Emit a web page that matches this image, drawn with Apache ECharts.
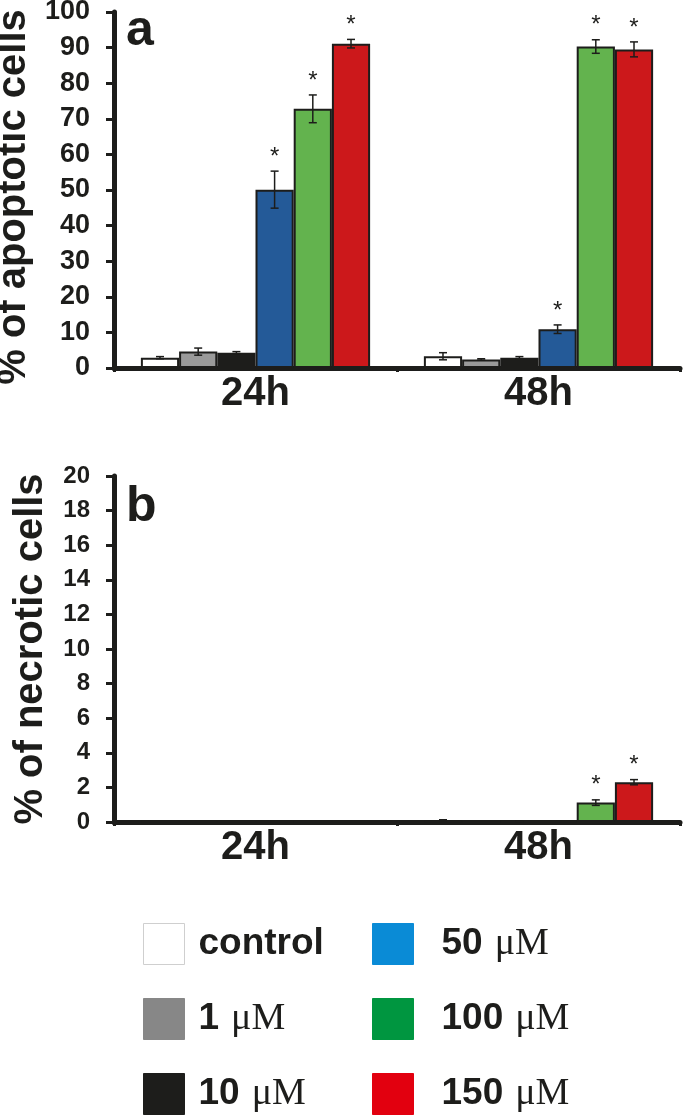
<!DOCTYPE html>
<html>
<head>
<meta charset="utf-8">
<style>
html,body{margin:0;padding:0;background:#fff;}
#chart{width:685px;height:1116px;}
</style>
<script src="https://cdn.jsdelivr.net/npm/echarts@6/dist/echarts.min.js"></script>
</head>
<body>
<div id="chart"></div>
<script>
// ---- data ----
var categories = ['24h', '48h'];
var seriesNames = ['control', '1 μM', '10 μM', '50 μM', '100 μM', '150 μM'];
// apoptotic (%) per series: [24h, 48h]
var apoptoticValues = [
  [2.9, 3.3],
  [4.6, 2.4],
  [4.3, 2.9],
  [50.1, 10.9],
  [72.8, 90.3],
  [91.1, 89.5]
];
var apoptoticErrors = [
  [0.3, 1.0],
  [1.0, 0.2],
  [0.3, 0.3],
  [5.2, 1.2],
  [3.9, 1.9],
  [1.2, 2.1]
];
var apoptoticStars = [
  [0, 0], [0, 0], [0, 0], [1, 1], [1, 1], [1, 1]
];
// necrotic (%) per series: [24h, 48h]
var necroticValues = [
  [0.02, 0.1],
  [0.06, 0.0],
  [0.04, 0.04],
  [0.06, 0.05],
  [0.02, 1.12],
  [0.05, 2.3]
];
var necroticErrors = [
  [0.0, 0.03],
  [0.0, 0.0],
  [0.0, 0.02],
  [0.0, 0.0],
  [0.0, 0.16],
  [0.0, 0.15]
];
var necroticStars = [
  [0, 0], [0, 0], [0, 0], [0, 0], [0, 1], [0, 1]
];
var apoptoticTicks = { min: 0, max: 100, interval: 10 };
var necroticTicks = { min: 0, max: 20, interval: 2 };

// ---- styles ----
var barColors = ['#ffffff', '#9a9a9a', '#1d1d1b', '#245a98', '#63b34e', '#cc181b'];
var legendColors = ['#ffffff', '#878787', '#1d1d1b', '#0a8bd6', '#009640', '#e2000f'];
var ink = '#1d1d1b';
var SANS = 'Liberation Sans, Arial, sans-serif';
var SERIF = 'Liberation Serif, Times New Roman, serif';
var CAT_GAP = 0.19;

var chart = echarts.init(document.getElementById('chart'), null, { renderer: 'canvas' });

function makeErrorRender(nSeries) {
  return function (params, api) {
    var cat = api.value(0);
    var s = api.value(1);
    var v = api.value(2);
    var e = api.value(3);
    var star = api.value(4);
    var center = api.coord([cat, 0]);
    var band = api.size([1, 0])[0];
    var bw = band * (1 - CAT_GAP) / nSeries;
    var xc = center[0] + (s - (nSeries - 1) / 2) * bw;
    var yTop = api.coord([cat, v + e])[1];
    var yBot = api.coord([cat, v - e])[1];
    var children = [];
    if (e > 0) {
      var st = { stroke: ink, lineWidth: 1.5 };
      children.push({ type: 'line', shape: { x1: xc, y1: yTop, x2: xc, y2: yBot }, style: st });
      children.push({ type: 'line', shape: { x1: xc - 4, y1: yTop, x2: xc + 4, y2: yTop }, style: st });
      children.push({ type: 'line', shape: { x1: xc - 4, y1: yBot, x2: xc + 4, y2: yBot }, style: st });
    }
    if (star) {
      children.push({
        type: 'text',
        style: {
          text: '*', x: xc, y: yTop - 14,
          align: 'center', verticalAlign: 'middle',
          font: '24px ' + SANS, fill: ink
        }
      });
    }
    return { type: 'group', children: children };
  };
}

function errorData(values, errors, stars) {
  var out = [];
  for (var s = 0; s < values.length; s++) {
    for (var c = 0; c < values[s].length; c++) {
      out.push([c, s, values[s][c], errors[s][c], stars[s][c]]);
    }
  }
  return out;
}

var series = [];
[0, 1].forEach(function (g) {
  var vals = g === 0 ? apoptoticValues : necroticValues;
  seriesNames.forEach(function (name, i) {
    series.push({
      name: name,
      type: 'bar',
      xAxisIndex: g,
      yAxisIndex: g,
      data: vals[i],
      barGap: '0%',
      barCategoryGap: (CAT_GAP * 100) + '%',
      itemStyle: { color: barColors[i], borderColor: ink, borderWidth: 2 },
      emphasis: { disabled: true },
      animation: false
    });
  });
  series.push({
    type: 'custom',
    xAxisIndex: g,
    yAxisIndex: g,
    renderItem: makeErrorRender(seriesNames.length),
    data: g === 0 ? errorData(apoptoticValues, apoptoticErrors, apoptoticStars)
                  : errorData(necroticValues, necroticErrors, necroticStars),
    z: 5,
    silent: true,
    animation: false
  });
});

function xAxisCfg(g) {
  return {
    type: 'category',
    gridIndex: g,
    data: categories,
    axisLine: { show: true, lineStyle: { color: ink, width: 5 } },
    axisTick: { show: true, length: 4, lineStyle: { color: ink, width: 3 } },
    axisLabel: { color: ink, fontFamily: SANS, fontWeight: 'bold', fontSize: 40, margin: 6 },
    splitLine: { show: false }
  };
}
function yAxisCfg(g, ticks, name, fs, gap, namePad) {
  return {
    type: 'value',
    gridIndex: g,
    min: ticks.min, max: ticks.max, interval: ticks.interval,
    name: name,
    nameLocation: 'middle',
    nameGap: gap,
    nameTextStyle: { color: ink, fontFamily: SANS, fontWeight: 'bold', fontSize: 40, padding: namePad },
    axisLine: { show: true, lineStyle: { color: ink, width: 5 } },
    axisTick: { show: true, length: 8, lineStyle: { color: ink, width: 3 } },
    axisLabel: { color: ink, fontFamily: SANS, fontWeight: 'bold', fontSize: fs, margin: 24 },
    splitLine: { show: false }
  };
}

// one legend component per entry, placed in a 2 x 3 block
var legendLayout = [
  { left: 143, top: 923, pad: 9 },
  { left: 143, top: 998, pad: 9 },
  { left: 143, top: 1073, pad: 9 },
  { left: 372, top: 923, pad: 23 },
  { left: 372, top: 998, pad: 23 },
  { left: 372, top: 1073, pad: 23 }
];
function legendCfg(i) {
  var L = legendLayout[i];
  return {
    orient: 'horizontal',
    left: L.left,
    top: L.top,
    padding: 0,
    itemWidth: 41,
    itemHeight: 41,
    icon: 'rect',
    selectedMode: false,
    data: [{
      name: seriesNames[i],
      itemStyle: {
        color: legendColors[i],
        borderColor: i === 0 ? '#cfcfcf' : legendColors[i],
        borderWidth: 1
      }
    }],
    formatter: function (n) {
      var parts = n.split(' ');
      if (parts.length === 1) return '{b|' + n + '}';
      return '{b|' + parts[0] + '}{m|' + parts[1] + '}';
    },
    textStyle: {
      rich: {
        b: { fontFamily: SANS, fontWeight: 'bold', fontSize: 37, color: ink, lineHeight: 41, padding: [0, 0, 0, L.pad] },
        m: { fontFamily: SERIF, fontWeight: 'normal', fontSize: 38, color: ink, lineHeight: 41, padding: [0, 0, 0, 12] }
      }
    }
  };
}

var option = {
  backgroundColor: '#ffffff',
  animation: false,
  title: [
    { text: 'a', left: 126, top: 6, padding: 0, textStyle: { fontFamily: SANS, fontWeight: 'bold', fontSize: 50, color: ink } },
    { text: 'b', left: 126, top: 482, padding: 0, textStyle: { fontFamily: SANS, fontWeight: 'bold', fontSize: 50, color: ink } }
  ],
  grid: [
    { left: 114, right: 5, top: 12, height: 356, outerBoundsMode: 'none', containLabel: false },
    { left: 114, right: 5, top: 476, height: 346, outerBoundsMode: 'none', containLabel: false }
  ],
  xAxis: [xAxisCfg(0), xAxisCfg(1)],
  yAxis: [
    yAxisCfg(0, apoptoticTicks, '% of apoptotic cells', 27, 74, [0, 14, 0, 0]),
    yAxisCfg(1, necroticTicks, '% of necrotic cells', 24, 63, [0, 0, 0, 0])
  ],
  legend: [0, 1, 2, 3, 4, 5].map(legendCfg),
  series: series
};
chart.setOption(option);
</script>
</body>
</html>
